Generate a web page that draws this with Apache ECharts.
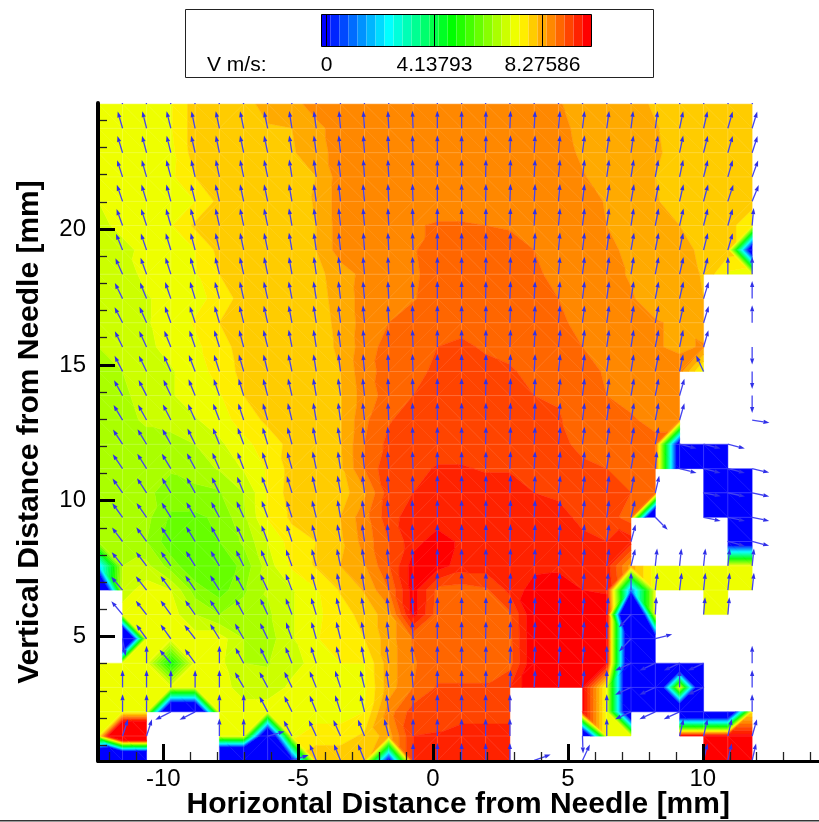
<!DOCTYPE html>
<html><head><meta charset="utf-8">
<style>html,body{margin:0;padding:0;background:#fff}#c{width:819px;height:822px}</style>
<script src="https://cdn.jsdelivr.net/npm/echarts@6/dist/echarts.min.js"></script>
</head><body><div id="c"></div>
<script>
const _ = null;
// Mesh node positions in mm
const xNodes = [-12.41,-11.51,-10.62,-9.72,-8.82,-7.92,-7.02,-6.13,-5.23,-4.33,-3.43,-2.54,-1.64,-0.74,0.16,1.06,1.95,2.85,3.75,4.65,5.54,6.44,7.34,8.24,9.14,10.03,10.93,11.83];
const yNodes = [24.60,23.71,22.81,21.92,21.02,20.13,19.23,18.34,17.44,16.55,15.66,14.76,13.87,12.97,12.08,11.18,10.29,9.39,8.50,7.60,6.71,5.81,4.92,4.02,3.13,2.23,1.34,0.44];
// V at each node, in contour-level units (1 unit = 10/29 m/s); null = blanked node
const levelRows = [
[21,21,21,21.4,23,23,23.1,23.9,24.1,25,25,25,25,25,25,25,25,25,25,24.6,24,24,24,23.3,23,23,23,22.6],
[21,21,21,21.4,23,23,23.2,23.4,23.5,24.2,25,25,25,25,25,25,25,25,25,24.8,24.2,24,24,23.6,23,23,23,23],
[21,21,21,21.2,23,23,23,23.1,23.4,24,25,25,25,25,25,25,25,25,25,25,24.3,24,24,23.7,23,23,23,23],
[21,21,21,21.3,22.5,23,23,23,23.1,23.5,25,25,25,25,25,25,25,25,25,25,24.6,24,24,23.5,23,23,23,23],
[20.5,21,21,21,21.5,22.8,23,23,23,23.6,25,25,25,25,25,25,25,25,25,25,25,24.4,24,23.6,23,23,23,23],
[20.3,20.7,21,21.4,22.7,23,23,23,23,23.5,25,25,25,25.4,25.6,25.6,25.5,25.4,25.2,25,25,24.5,24,24,23.5,23,23,21.5],
[20,20.3,20.7,21,21.5,22.8,23,23,23,23.5,25,25,25,25.4,26,26,26,25.9,25.5,25,25,24.8,24.2,24,23.8,23.3,23,-5],
[20,20,20.8,21.1,21.4,22.5,23,23,23,23.2,24,24.8,25,25.3,26,26,26,26,25.8,25,25,24.8,24.4,24,24,23.4,21.3,21],
[20,20,20.4,20.9,21.2,21.8,23,23,23,23.1,23.9,24.9,25.1,25.4,26,26,26,26,25.8,25.5,25,25,24.6,24,24,23.5,_,_],
[20,20,20.4,21,21.6,22.5,23,23,23,23,23.8,24.9,25.5,26.1,26,26,26,26,25.9,25.7,25.2,25,25,24.6,24.3,24,_,_],
[19.5,20,20.3,20.8,21.3,22,23,23,23,23,23.7,25,25.9,26,26.5,26.8,26.3,26,25.8,26,25.5,25,25,24.6,24.3,24.6,_,_],
[19.2,19.5,20,20.4,21,21.9,22.8,23,23,23,23.5,25.2,25.8,26.2,26.7,27,27,26.7,26,26,25.8,25.4,25,25,25,21,_,_],
[19,19.3,19.9,20.4,21,21.4,22.5,23,23,23,23.4,25,25.9,26.5,27,27,27,26.9,26.5,26.4,26,25.5,25,25,25,_,_,_],
[19,19.1,19.7,20,20.4,21,22,22.7,23,23,23.4,25.3,26.4,27,27,27,27,27,26.8,26.6,26,26,25.7,25,25,_,_,_],
[19,19,19,19,19.5,20.3,21.2,22,22.8,23,23.4,25.5,26.8,27,27,27,27,27,27,27,26,26,26,26,-4,-4,-4,_],
[19,19,19,18.6,19,19.6,20.6,21.6,22.9,23,23.3,25.5,27.3,27.2,27.6,27.6,27.4,27.4,27,27,26.9,26.5,26,26,-4,-4,-4,-4],
[19,19,18.7,18.1,18.2,18.4,19.5,21.6,23,23,23,24.3,27,27.5,28,28,28,28,27.5,27.3,27,26.9,26.5,26,_,-4,-4,-4],
[19,19,18.8,17.3,17.3,17.7,19.3,21.6,22.7,23,23.5,25.1,27.1,28,28,28,28,28,28,27.9,27.2,27,26,-15,_,-4,-4,-4],
[19,19,18.5,16.8,16.5,17.5,18.7,20.5,22,22.5,23.3,24.9,26.5,28.1,29,28.3,28,28,28,28,27.8,27.5,28,_,_,_,-4,-4],
[5,19.5,19.8,18,16.6,16.7,17.8,20,21.7,22.6,23.5,24.4,26.4,29,29,28,28,28,28.2,28.3,28,28,24,21,21,21,21,21],
[-15,20,21,20.5,18,17,18.3,19.6,20.4,21.4,22.6,23.6,25.5,29,26.2,26,26.3,27.8,29,29,28.5,28.4,3,21,21,21,21,21],
[_,21,21,21,19.5,18.5,19,19.3,20.4,21.3,22,22.9,24,29,26,26,26,26.3,29.5,29,29,29,-25,21,_,21,21,_],
[_,-20,21,21,21,21,19.5,19,20.4,21.4,22.2,22.5,24,25.6,26,26,26,26.2,29.5,29,29,29,-10,-4,_,_,_,_],
[21,21,21,14,21,20.8,19.5,19.4,20.2,20.8,21.5,21.5,24,25.4,26,26,26,26.1,29.5,29,29,29,-10,-10,-10,-10,_,_],
[21,21,21,21,21,21,20,20,20.7,21,21,21.3,24,25.5,26.6,26.6,26.6,27.5,29.5,29,29,21,-10,-10,21,-10,_,_],
[21,21,21,-13,-13,21,21,21,21,21,21,21.5,25,27,27,27,27,27,_,_,29,21,-10,-10,-10,-10,-10,22],
[21,40,40,_,_,21,21,-10,21.3,22,22,22.7,24,27.5,27.6,28,28,28,_,_,-10,21,21,_,29,29,29,29],
[-20,-25,-25,_,_,-25,-25,-20,-2,23.3,23.3,23.3,-2,27.5,28,28,28,28,_,_,_,_,_,_,_,29,29,29]
];
// Arrow direction at each node, degrees clockwise from straight up; null = no arrow
const angleRows = [
[_,-16,-14,-14,-12,-12,-12,-12,-9,-8,-5,-4,-3,-2,0,0,1,2,3,5,7,8,7,8,12,13,16,17],
[_,-16,-14,-14,-12,-12,-12,-12,-9,-8,-5,-4,-3,-2,0,0,1,2,3,5,7,8,7,8,12,13,16,17],
[_,-17,-15,-14,-13,-12,-12,-12,-9,-8,-6,-4,-3,-2,0,0,1,2,3,5,7,8,8,9,12,14,16,18],
[_,-18,-16,-15,-13,-12,-12,-12,-9,-8,-6,-4,-3,-2,0,0,1,2,3,5,7,8,9,10,12,14,16,20],
[_,-19,-17,-15,-14,-13,-12,-12,-10,-8,-6,-5,-3,-2,0,0,1,2,3,5,7,9,10,11,13,15,18,22],
[_,-20,-18,-16,-15,-13,-12,-12,-10,-8,-6,-5,-3,-2,0,0,1,2,3,5,7,8,9,11,13,14,16,5],
[_,-22,-19,-17,-15,-13,-12,-12,-10,-8,-6,-4,-3,-2,0,0,1,2,3,5,7,8,10,11,12,14,16,_],
[_,-24,-20,-18,-16,-14,-13,-12,-10,-8,-7,-5,-3,-2,0,0,1,2,3,5,7,8,9,11,13,14,0,0],
[_,-26,-22,-19,-17,-15,-13,-13,-11,-9,-7,-5,-3,-2,0,0,1,2,3,5,7,8,9,11,13,17,_,0],
[_,-27,-24,-20,-18,-16,-14,-13,-11,-9,-7,-5,-3,-2,0,0,1,2,3,5,7,8,9,11,13,17,_,0],
[_,-26,-25,-22,-19,-17,-15,-14,-11,-9,-7,-5,-3,-2,0,0,1,2,3,6,7,8,9,11,12,16,_,180],
[_,-27,-26,-24,-21,-18,-16,-14,-12,-9,-7,-5,-3,-2,0,0,1,2,3,6,7,8,9,11,12,-25,_,180],
[_,-29,-27,-25,-22,-19,-17,-15,-13,-10,-8,-6,-3,-2,0,0,1,2,3,6,7,8,10,11,16,_,_,180],
[_,-31,-29,-27,-24,-21,-18,-16,-14,-10,-8,-6,-3,-2,0,0,1,2,3,6,7,8,10,11,16,_,_,99],
[_,-33,-31,-29,-26,-22,-20,-17,-15,-11,-9,-6,-4,-2,0,0,1,2,3,6,7,8,10,11,104,104,104,_],
[_,-34,-32,-31,-28,-24,-21,-18,-16,-12,-9,-7,-4,-2,0,0,1,2,3,6,7,8,10,5,104,104,104,103],
[_,-35,-33,-31,-29,-26,-22,-20,-17,-13,-10,-7,-4,-2,0,0,1,2,3,6,7,8,10,13,_,101,102,102],
[_,-36,-35,-32,-30,-28,-24,-20,-18,-14,-10,-8,-5,-3,0,0,1,2,3,6,7,8,13,135,_,102,102,102],
[_,-37,-36,-34,-31,-29,-25,-21,-18,-14,-11,-8,-5,-3,0,0,1,2,3,6,7,8,15,_,_,_,105,104],
[_,-38,-37,-35,-32,-30,-26,-23,-20,-15,-12,-8,-5,-3,0,0,1,2,3,6,7,8,14,6,6,6,6,6],
[_,-40,-38,-36,-34,-32,-28,-25,-21,-16,-12,-9,-6,-3,0,0,1,2,3,5,6,5,0,7,7,6,6,6],
[_,-40,-38,-36,-35,-33,-28,-25,-21,-17,-14,-10,-6,-3,0,0,1,2,3,5,6,5,-137,3,_,5,5,_],
[_,170,-36,-36,-38,-32,-30,-26,-20,-16,-14,-10,-6,-3,0,0,1,2,3,5,6,0,-137,75,_,_,_,_],
[_,_,0,-40,-36,0,-28,-26,-22,-18,-14,-10,-8,-4,0,0,1,2,3,5,6,0,-115,-115,-115,-115,_,0],
[_,0,0,0,0,0,-30,-28,-26,-22,-18,-14,-8,-4,0,0,1,2,3,5,6,0,-115,-115,0,-115,_,0],
[_,0,0,-117,-117,0,0,-28,-26,-22,-18,-14,-8,0,0,0,0,0,_,_,_,0,-115,-115,-115,_,_,0],
[_,18,18,_,_,0,0,75,-28,-25,-24,-22,-15,0,0,0,0,0,_,_,178,0,_,_,13,13,13,16],
[_,_,_,_,_,_,_,_,72,-22,-22,-22,_,0,0,0,0,0,70,_,25,_,_,_,_,13,13,13]
];
const xMajorTicks = [-10,-5,0,5,10];
const xMinorTicks = [-12,-11,-9,-8,-7,-6,-4,-3,-2,-1,1,2,3,4,6,7,8,9,11,12,13,14];
const yMajorTicks = [5,10,15,20];
const yMinorTicks = [1,2,3,4,6,7,8,9,11,12,13,14,16,17,18,19,21,22,23,24];
const legendTitle = 'V m/s:';
const legendLevels = [0,12,24];
const legendLabels = ['0','4.13793','8.27586'];
const levelCount = 30;

function levelColor(k){
  let r=0,g=0,b=0;
  if(k<=7){g=255*k/7;b=255;}
  else if(k<=14){g=255;b=255*(14-k)/7;}
  else if(k<=21.5){r=Math.min(255,(k-14)*34);g=255;}
  else {r=255;g=Math.max(0,(29-k)*34);}
  return 'rgb('+Math.round(r)+','+Math.round(g)+','+Math.round(b)+')';
}
function clipPoly(poly,limit,keepAbove){
  const out=[];
  for(let i=0;i<poly.length;i++){
    const a=poly[i],b=poly[(i+1)%poly.length];
    const ia=keepAbove?a[2]>=limit:a[2]<=limit, ib=keepAbove?b[2]>=limit:b[2]<=limit;
    if(ia)out.push(a);
    if(ia!==ib){const t=(limit-a[2])/(b[2]-a[2]);out.push([a[0]+t*(b[0]-a[0]),a[1]+t*(b[1]-a[1]),limit]);}
  }
  return out;
}
const clampLevel=v=>Math.max(0,Math.min(levelCount-1,Math.round(v)));
function triangleBands(tri,children){
  const vs=tri.map(p=>p[2]);
  const lo=clampLevel(Math.min(...vs)),hi=clampLevel(Math.max(...vs));
  for(let k=lo;k<=hi;k++){
    let poly=tri;
    if(k>0)poly=clipPoly(poly,k-0.5,true);
    if(poly.length&&k<levelCount-1)poly=clipPoly(poly,k+0.5,false);
    if(poly.length>=3){
      const col=levelColor(k);
      children.push({type:'polygon',shape:{points:poly.map(p=>[p[0],p[1]])},style:{fill:col,stroke:col,lineWidth:0.5},silent:true});
    }
  }
}
const cells=[];
for(let r=0;r<yNodes.length-1;r++)for(let c=0;c<xNodes.length-1;c++){
  const v=[levelRows[r][c],levelRows[r][c+1],levelRows[r+1][c+1],levelRows[r+1][c]];
  if(v.every(d=>d!==null))cells.push([xNodes[c],yNodes[r],c,r]);
}
const arrows=[];
angleRows.forEach((row,r)=>row.forEach((a,c)=>{if(a!==null)arrows.push([xNodes[c],yNodes[r],a]);}));

function renderCell(params,api){
  const c=api.value(2),r=api.value(3);
  const node=(cc,rr)=>{const p=api.coord([xNodes[cc],yNodes[rr]]);return [p[0],p[1],levelRows[rr][cc]];};
  const a=node(c,r),b=node(c+1,r),d=node(c+1,r+1),e=node(c,r+1);
  const children=[];
  if(Math.abs(a[2]-d[2])<=Math.abs(b[2]-e[2])){triangleBands([a,b,d],children);triangleBands([a,d,e],children);}
  else{triangleBands([a,b,e],children);triangleBands([b,d,e],children);}
  return {type:'group',children};
}
// faint mesh lines along cell edges
function renderMesh(params,api){
  const c=api.value(2),r=api.value(3);
  const a=api.coord([xNodes[c],yNodes[r]]),b=api.coord([xNodes[c+1],yNodes[r]]),e=api.coord([xNodes[c],yNodes[r+1]]);
  const st={stroke:'rgba(255,255,255,0.16)',lineWidth:1};
  return {type:'group',children:[
    {type:'line',shape:{x1:a[0],y1:a[1],x2:b[0],y2:b[1]},style:st,silent:true},
    {type:'line',shape:{x1:a[0],y1:a[1],x2:e[0],y2:e[1]},style:st,silent:true}
  ]};
}
const arrowLen=17.5,headLen=6,headHalf=2.1;
function renderArrow(params,api){
  const p=api.coord([api.value(0),api.value(1)]),t=api.value(2)*Math.PI/180;
  const ux=Math.sin(t),uy=-Math.cos(t);
  const tip=[p[0]+ux*arrowLen,p[1]+uy*arrowLen];
  const base=[tip[0]-ux*headLen,tip[1]-uy*headLen];
  return {type:'group',children:[
    {type:'line',shape:{x1:p[0],y1:p[1],x2:base[0],y2:base[1]},style:{stroke:'#4444f0',lineWidth:1.3},silent:true},
    {type:'polygon',shape:{points:[tip,[base[0]-uy*headHalf,base[1]+ux*headHalf],[base[0]+uy*headHalf,base[1]-ux*headHalf]]},style:{fill:'#3030e8'},silent:true}
  ]};
}
// Legend
const legendX=k=>326+9*k;
const legendGraphic=[
  {type:'rect',shape:{x:185.5,y:9.5,width:468,height:68},style:{fill:'#fff',stroke:'#222',lineWidth:1},z:20}
];
for(let k=0;k<levelCount;k++)legendGraphic.push({type:'rect',shape:{x:legendX(k)-4.5,y:14.5,width:9,height:32},style:{fill:levelColor(k)},z:21});
legendGraphic.push({type:'rect',shape:{x:321.5,y:14.5,width:270,height:32},style:{fill:'none',stroke:'#000',lineWidth:1},z:22});
legendLevels.forEach((k,i)=>{
  const lx=Math.floor(legendX(k))+0.5;
  legendGraphic.push({type:'line',shape:{x1:lx,y1:14.5,x2:lx,y2:46.5},style:{stroke:'#000',lineWidth:1},z:22});
  legendGraphic.push({type:'text',x:legendX(k)+0.5,y:65,style:{text:legendLabels[i],fill:'#000',font:'21px "Liberation Sans"',textAlign:'center',textVerticalAlign:'middle'},z:22});
});
legendGraphic.push({type:'text',x:207,y:65,style:{text:legendTitle,fill:'#000',font:'21px "Liberation Sans"',textAlign:'left',textVerticalAlign:'middle'},z:22});
legendGraphic.push({type:'rect',shape:{x:0,y:820,width:819,height:1.5},style:{fill:'#333'},z:22});

const xMin=-12.42,xMax=14.29,yMin=0.42,yMax=24.64;
const font='"Liberation Sans"';
const chart=echarts.init(document.getElementById('c'),null,{renderer:'canvas'});
chart.setOption({
  animation:false,
  backgroundColor:'#fff',
  grid:{left:98,right:0.5,top:103,bottom:61,containLabel:false,outerBoundsMode:'none'},
  xAxis:[
    {type:'value',min:xMin,max:xMax,position:'bottom',z:10,name:'Horizontal Distance from Needle [mm]',nameLocation:'middle',nameGap:29,nameMoveOverlap:false,
     nameTextStyle:{fontFamily:font,fontWeight:'bold',fontSize:30,color:'#000'},
     axisLine:{show:true,onZero:false,lineStyle:{color:'#000',width:3}},
     axisTick:{show:true,inside:true,length:17,lineStyle:{color:'#000',width:3},customValues:xMajorTicks},
     axisLabel:{show:true,margin:6,fontFamily:font,fontSize:24,color:'#000',customValues:xMajorTicks,hideOverlap:false},
     splitLine:{show:false}},
    {type:'value',min:xMin,max:xMax,position:'bottom',z:9,
     axisLine:{show:false,onZero:false},axisLabel:{show:false},splitLine:{show:false},
     axisTick:{show:true,inside:true,length:9,lineStyle:{color:'#222',width:1.3},customValues:xMinorTicks}}
  ],
  yAxis:[
    {type:'value',min:yMin,max:yMax,position:'left',z:10,name:'Vertical Distance from Needle [mm]',nameLocation:'middle',nameGap:53,nameMoveOverlap:false,
     nameTextStyle:{fontFamily:font,fontWeight:'bold',fontSize:30,color:'#000'},
     axisLine:{show:true,onZero:false,lineStyle:{color:'#000',width:4}},
     axisTick:{show:true,inside:true,length:17,lineStyle:{color:'#000',width:3},customValues:yMajorTicks},
     axisLabel:{show:true,margin:12,fontFamily:font,fontSize:24,color:'#000',customValues:yMajorTicks,hideOverlap:false},
     splitLine:{show:false}},
    {type:'value',min:yMin,max:yMax,position:'left',z:9,
     axisLine:{show:false,onZero:false},axisLabel:{show:false},splitLine:{show:false},
     axisTick:{show:true,inside:true,length:9,lineStyle:{color:'#222',width:1.3},customValues:yMinorTicks}}
  ],
  series:[
    {type:'custom',name:'V',coordinateSystem:'cartesian2d',xAxisIndex:0,yAxisIndex:0,data:cells,renderItem:renderCell,encode:{x:0,y:1},clip:true,silent:true,progressive:0,z:2},
    {type:'custom',name:'Mesh',coordinateSystem:'cartesian2d',xAxisIndex:0,yAxisIndex:0,data:cells,renderItem:renderMesh,encode:{x:0,y:1},clip:true,silent:true,progressive:0,z:2.5},
    {type:'custom',name:'Velocity',coordinateSystem:'cartesian2d',xAxisIndex:0,yAxisIndex:0,data:arrows,renderItem:renderArrow,encode:{x:0,y:1},clip:true,silent:true,progressive:0,z:3}
  ],
  graphic:{elements:legendGraphic}
});
</script></body></html>
